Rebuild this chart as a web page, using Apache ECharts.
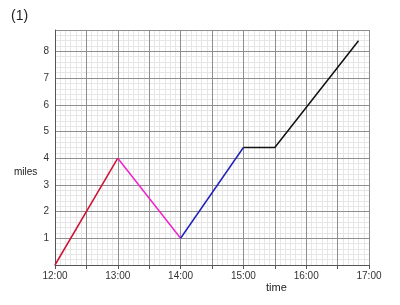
<!DOCTYPE html>
<html>
<head>
<meta charset="utf-8">
<script src="https://cdn.jsdelivr.net/npm/echarts@6/dist/echarts.min.js"></script>
<style>html,body{margin:0;padding:0;background:#fff;}#c{width:400px;height:305px;}</style>
</head>
<body>
<div id="c"></div>
<script>
// Data
var times = ['12:00', '13:00', '14:00', '15:00', '15:30', '16:50'];
var miles = [0, 4, 1, 4.4, 4.4, 8.4];
var segColors = ['#cc1133', '#ee22cc', '#2222bb', '#111111'];
// segment i covers points segStart[i]..segEnd[i]
var segStart = [0, 1, 2, 3];
var segEnd = [1, 2, 3, 5];
var xTickLabels = ['12:00', '13:00', '14:00', '15:00', '16:00', '17:00'];

function toMin(t) { var p = t.split(':'); return (parseInt(p[0], 10) - 12) * 60 + parseInt(p[1], 10); }

var series = [];
for (var s = 0; s < segStart.length; s++) {
  var d = [];
  for (var i = segStart[s]; i <= segEnd[s]; i++) d.push([toMin(times[i]), miles[i]]);
  series.push({
    type: 'line', data: d, showSymbol: false, symbol: 'none', xAxisIndex: 1, yAxisIndex: 1,
    lineStyle: { color: segColors[s], width: 1.5 }, z: 10, animation: false
  });
}

var font = 'Liberation Sans, Arial, sans-serif';
var gridPos = { left: 55, right: 31, top: 30, bottom: 40, containLabel: false };
var minorColor = '#e6e6e6';
var majorColor = '#8f8f8f';
var chart = echarts.init(document.getElementById('c'), null, { renderer: 'canvas' });
chart.setOption({
  animation: false,
  grid: [Object.assign({}, gridPos), Object.assign({}, gridPos)],
  xAxis: [
    { // minor grid
      type: 'value', gridIndex: 0, min: 0, max: 300, interval: 5, z: 0,
      axisLine: { show: false }, axisTick: { show: false }, axisLabel: { show: false },
      splitLine: { show: true, lineStyle: { color: minorColor, width: 1 } }
    },
    { // major grid, axis line and labels
      type: 'value', gridIndex: 1, min: 0, max: 300, interval: 30, z: 2,
      axisLine: { show: true, lineStyle: { color: '#555', width: 1 } },
      axisTick: { show: true, length: 4, lineStyle: { color: '#555' } },
      axisLabel: {
        color: '#333', fontSize: 10, fontFamily: font, margin: 6,
        formatter: function (v) {
          if (v % 60 !== 0) return '';
          return xTickLabels[v / 60];
        }
      },
      splitLine: { show: true, lineStyle: { color: majorColor, width: 1 } }
    }
  ],
  yAxis: [
    {
      type: 'value', gridIndex: 0, min: 0, max: 8.8, interval: 0.2, z: 0,
      axisLine: { show: false }, axisTick: { show: false }, axisLabel: { show: false },
      splitLine: { show: true, lineStyle: { color: minorColor, width: 1 } }
    },
    {
      type: 'value', gridIndex: 1, min: 0, max: 8.8, interval: 1, z: 2,
      axisLine: { show: true, lineStyle: { color: '#555', width: 1 } },
      axisTick: { show: false },
      axisLabel: {
        color: '#333', fontSize: 10, fontFamily: font, margin: 6,
        formatter: function (v) {
          var r = Math.round(v);
          if (Math.abs(v - r) > 1e-6 || r === 0) return '';
          return String(r);
        }
      },
      splitLine: { show: true, lineStyle: { color: majorColor, width: 1 } }
    }
  ],
  graphic: [
    { type: 'text', left: 11, top: 9, style: { text: '(1)', fontSize: 14, fontFamily: font, fill: '#222' } },
    { type: 'text', left: 14, top: 167, style: { text: 'miles', fontSize: 10, fontFamily: font, fill: '#222' } },
    { type: 'text', left: 266, top: 282, style: { text: 'time', fontSize: 11, fontFamily: font, fill: '#222' } }
  ],
  series: series
});
</script>
</body>
</html>
